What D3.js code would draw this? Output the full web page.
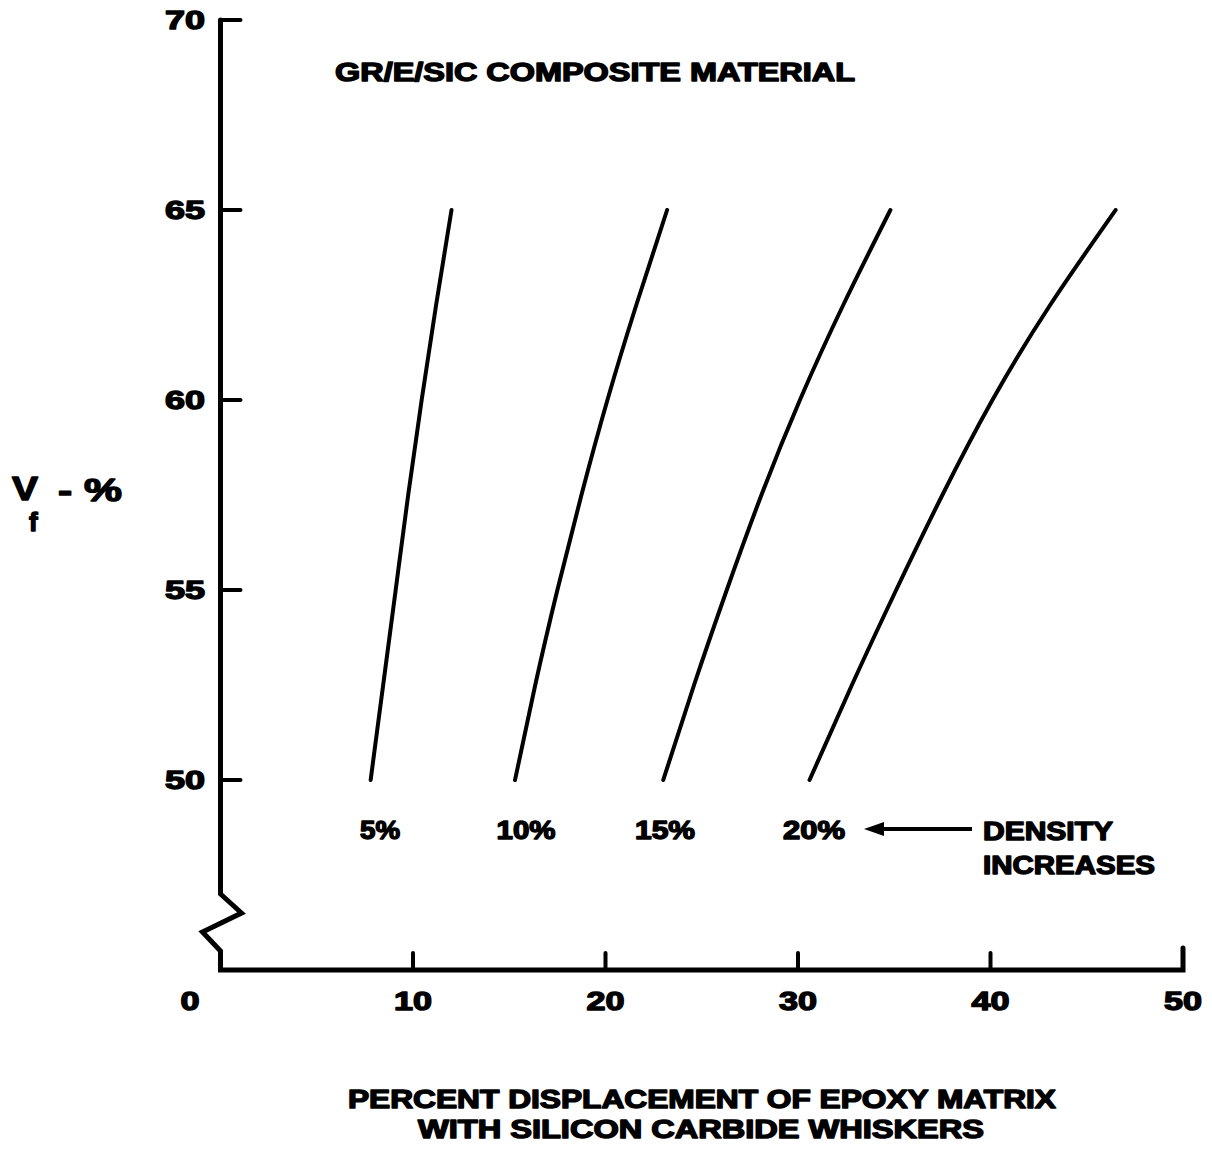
<!DOCTYPE html>
<html>
<head>
<meta charset="utf-8">
<script src="https://cdn.jsdelivr.net/npm/d3@7"></script>
<style>
  html, body { margin: 0; padding: 0; background: #fff; }
  svg { display: block; }
  text { font-family: "Liberation Sans", Arial, Helvetica, sans-serif; font-weight: bold; fill: #000; stroke: #000; stroke-width: 1.4px; stroke-linejoin: round; }
</style>
</head>
<body>
<svg id="chart" width="1212" height="1151"></svg>
<script>
// ---- Data ----
const vfLevels = [50, 52.5, 55, 57.5, 60, 62.5, 65];            // Vf - %
const series5  = [7.8, 8.45, 9.1, 9.75, 10.45, 11.2, 12.0];      // 5% density
const series10 = [15.3, 16.35, 17.5, 18.75, 20.1, 21.6, 23.2];   // 10%
const series15 = [23.0, 24.6, 26.3, 28.1, 30.1, 32.35, 34.8];    // 15%
const series20 = [30.6, 32.8, 35.1, 37.5, 40.1, 43.1, 46.5];     // 20%
const seriesLabels = ["5%", "10%", "15%", "20%"];
const xTicks = [10, 20, 30, 40, 50];
const yTicks = [50, 55, 60, 65, 70];
const title = "GR/E/SIC COMPOSITE MATERIAL";
const xTitle = ["PERCENT DISPLACEMENT OF EPOXY MATRIX", "WITH SILICON CARBIDE WHISKERS"];
const annotation = ["DENSITY", "INCREASES"];

const svg = d3.select("#chart");
const x = d3.scaleLinear().domain([0, 50]).range([220.5, 1183]);
const y = d3.scaleLinear().domain([45, 70]).range([970, 20]);

// ---- Axes frame with broken y-axis ----
const x0 = x(0);
const axisPath = d3.path();
axisPath.moveTo(x0, y(70));
axisPath.lineTo(x0, y(47.0));
axisPath.lineTo(x0 + 21, y(46.5));
axisPath.lineTo(x0 - 18, y(46.0));
axisPath.lineTo(x0, y(45.5));
axisPath.lineTo(x0, y(45));
axisPath.lineTo(x(50), y(45));
axisPath.lineTo(x(50), y(45) - 22);
svg.append("path").attr("d", axisPath.toString())
  .attr("fill", "none").attr("stroke", "#000").attr("stroke-width", 5)
  .attr("stroke-linejoin", "miter").attr("stroke-linecap", "round");

// y ticks (pointing right)
svg.selectAll(".ytick").data(yTicks).enter().append("line")
  .attr("x1", x0).attr("x2", x0 + 20)
  .attr("y1", d => y(d)).attr("y2", d => y(d))
  .attr("stroke", "#000").attr("stroke-width", 4).attr("stroke-linecap", "round");
svg.selectAll(".ylab").data(yTicks).enter().append("text")
  .attr("x", 205).attr("y", d => y(d) + 9)
  .attr("text-anchor", "end").attr("font-size", 26)
  .attr("textLength", 40).attr("lengthAdjust", "spacingAndGlyphs")
  .text(d => d);

// x ticks (pointing up)
svg.selectAll(".xtick").data(xTicks.filter(d => d < 50)).enter().append("line")
  .attr("x1", d => x(d)).attr("x2", d => x(d))
  .attr("y1", y(45)).attr("y2", y(45) - 17)
  .attr("stroke", "#000").attr("stroke-width", 4).attr("stroke-linecap", "round");
svg.selectAll(".xlab").data([0].concat(xTicks)).enter().append("text")
  .attr("x", d => d === 0 ? 190 : x(d)).attr("y", 1010)
  .attr("text-anchor", "middle").attr("font-size", 26)
  .attr("textLength", d => d === 0 ? 19 : 38).attr("lengthAdjust", "spacingAndGlyphs")
  .text(d => d);

// ---- Curves ----
const allSeries = [series5, series10, series15, series20];
const line = d3.line()
  .x(d => x(d[0])).y(d => y(d[1]))
  .curve(d3.curveNatural);
allSeries.forEach(s => {
  const pts = s.map((v, i) => [v, vfLevels[i]]);
  svg.append("path").attr("d", line(pts))
    .attr("fill", "none").attr("stroke", "#000").attr("stroke-width", 4)
    .attr("stroke-linecap", "round");
});

// series labels below the curves
const labelX = [380, 526, 665, 814];
const labelW = [40, 59, 60, 62];
svg.selectAll(".slab").data(seriesLabels).enter().append("text")
  .attr("x", (d, i) => labelX[i]).attr("y", 839)
  .attr("text-anchor", "middle").attr("font-size", 25)
  .attr("textLength", (d, i) => labelW[i]).attr("lengthAdjust", "spacingAndGlyphs")
  .text(d => d);

// arrow
svg.append("line").attr("x1", 880).attr("x2", 972).attr("y1", 829).attr("y2", 829)
  .attr("stroke", "#000").attr("stroke-width", 4);
svg.append("path").attr("d", "M864,829 L884,822 L884,836 Z").attr("fill", "#000");
svg.selectAll(".ann").data(annotation).enter().append("text")
  .attr("x", 983).attr("y", (d, i) => 840 + i * 34)
  .attr("font-size", 25)
  .attr("textLength", (d, i) => i === 0 ? 130 : 172).attr("lengthAdjust", "spacingAndGlyphs")
  .text(d => d);

// title
svg.append("text").attr("x", 335).attr("y", 81).attr("font-size", 25)
  .attr("textLength", 520).attr("lengthAdjust", "spacingAndGlyphs")
  .text(title);

// x-axis title
svg.selectAll(".xt").data(xTitle).enter().append("text")
  .attr("x", (d, i) => i === 0 ? 348 : 418).attr("y", (d, i) => 1108 + i * 30)
  .attr("font-size", 25)
  .attr("textLength", (d, i) => i === 0 ? 708 : 566).attr("lengthAdjust", "spacingAndGlyphs")
  .text(d => d);

// y-axis title  V_f - %
svg.append("text").attr("x", 12).attr("y", 500).attr("font-size", 34)
  .attr("textLength", 26).attr("lengthAdjust", "spacingAndGlyphs").text("V");
svg.append("text").attr("x", 29).attr("y", 531).attr("font-size", 26).text("f");
svg.append("text").attr("x", 58).attr("y", 501).attr("font-size", 32)
  .attr("textLength", 64).attr("lengthAdjust", "spacingAndGlyphs").text("- %");
</script>
</body>
</html>
